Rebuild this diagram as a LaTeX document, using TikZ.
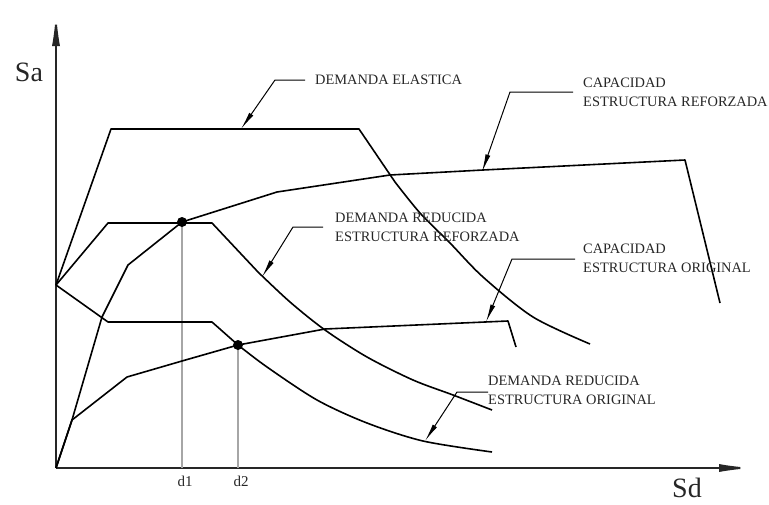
\documentclass[tikz,border=0pt]{standalone}
\usepackage{fontspec}
\setmainfont{Liberation Serif}
\usetikzlibrary{arrows.meta}
\begin{document}
\begin{tikzpicture}[x=1pt,y=-1pt,
  curve/.style={line width=1.6pt, line join=round},
  axisline/.style={line width=2pt, draw=black!85, -{Latex[length=34pt,width=8pt]}},
  guide/.style={line width=1.4pt, draw=black!35},
  leader/.style={line width=1pt, -{Latex[length=18pt,width=5pt]}},
  lbl/.style={font=\fontsize{14.4}{18.5}\selectfont, inner sep=0pt, align=left, text=black!85},
  big/.style={font=\fontsize{28}{30}\selectfont, inner sep=0pt, text=black!85},
  small/.style={font=\fontsize{15}{16}\selectfont, inner sep=0pt, text=black!85},
  dot/.style={circle, fill=black, inner sep=0pt, minimum size=10pt}]
\useasboundingbox (0,0) rectangle (769,504);
% axes
\coordinate (O) at (56,468);
\coordinate (ytop) at (56,12);
\coordinate (xend) at (753,468);
\draw[axisline] (O) -- (ytop);
\draw[axisline] (O) -- (xend);
\node[big] (Sa) at (29,72) {Sa};
\node[big] (Sd) at (687,488) {Sd};
% performance points
\coordinate (p1) at (182,222);
\coordinate (p2) at (238,345);
\draw[guide] (p1) -- (p1 |- O);
\draw[guide] (p2) -- (p2 |- O);
\node[small] (d1) at (185,481) {d1};
\node[small] (d2) at (241,481) {d2};
% demanda elastica
\draw[curve] (56,285) -- (111,129) -- (359,129) -- (395,182)
  plot[smooth] coordinates {(395,182) (420,213) (450,243) (483,277) (533,317) (590,344)};
% demanda reducida estructura reforzada
\draw[curve] (56,285) -- (108,223) -- (212,223) -- (258,272)
  plot[smooth] coordinates {(258,272) (290,302) (325,330) (367,357) (413,380) (453,395) (492,410)};
% demanda reducida estructura original
\draw[curve] (56,285) -- (108,322) -- (212,322) -- (238,345)
  plot[smooth] coordinates {(238,345) (267,367) (317,400) (367,423) (423,441) (492,452)};
% capacidad estructura reforzada
\draw[curve] (O) -- (72,420) -- (102,317) -- (128,265) -- (p1) -- (277,192) -- (390,175) -- (483,170) -- (685,160) -- (720,303);
% capacidad estructura original
\draw[curve] (O) -- (72,420) -- (127,377) -- (182,361) -- (p2) -- (325,329) -- (485,322) -- (508,321) -- (516,347);
\node[dot] (P1) at (p1) {};
\node[dot] (P2) at (p2) {};
% callouts
\coordinate (t1) at (241,129); \coordinate (k1) at (275,80); \coordinate (e1) at (305,80);
\draw[leader] (e1) -- (k1) -- (t1);
\node[lbl, anchor=west] (L1) at (315,80) {DEMANDA ELASTICA};
\coordinate (t2) at (482,172); \coordinate (k2) at (510,92); \coordinate (e2) at (573,92);
\draw[leader] (e2) -- (k2) -- (t2);
\node[lbl, anchor=north west] (L2) at (583,78) {CAPACIDAD\\ESTRUCTURA REFORZADA};
\coordinate (t3) at (262,277); \coordinate (k3) at (293,227); \coordinate (e3) at (323,227);
\draw[leader] (e3) -- (k3) -- (t3);
\node[lbl, anchor=north west] (L3) at (335,213) {DEMANDA REDUCIDA\\ESTRUCTURA REFORZADA};
\coordinate (t4) at (486,322); \coordinate (k4) at (512,259); \coordinate (e4) at (575,259);
\draw[leader] (e4) -- (k4) -- (t4);
\node[lbl, anchor=north west] (L4) at (583,244) {CAPACIDAD\\ESTRUCTURA ORIGINAL};
\coordinate (t5) at (425,441); \coordinate (k5) at (457,392); \coordinate (e5) at (488,392);
\draw[leader] (e5) -- (k5) -- (t5);
\node[lbl, anchor=north west] (L5) at (488,376) {DEMANDA REDUCIDA\\ESTRUCTURA ORIGINAL};
\end{tikzpicture}
\end{document}
